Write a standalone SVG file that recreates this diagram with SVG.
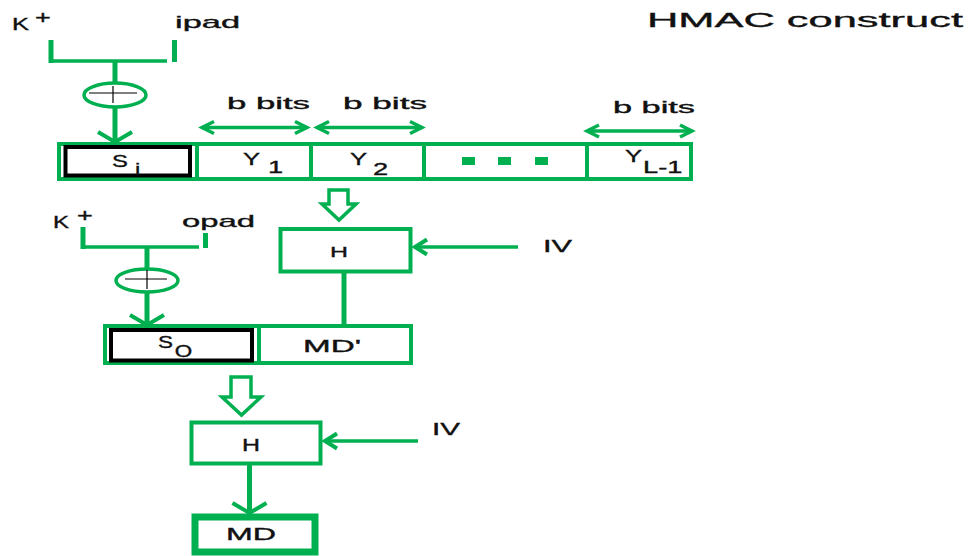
<svg xmlns="http://www.w3.org/2000/svg" width="968" height="556" viewBox="0 0 968 556">
<style>
.t{font-family:"Liberation Sans",Arial,sans-serif;fill:#111;stroke:#111;stroke-width:0.35}
.box{fill:#fff;stroke:#00b050;stroke-width:4}
.blk{fill:#fff;stroke:#000;stroke-width:4}
.ln{stroke:#00b050;fill:none}
.v{stroke-width:5}
.h{stroke-width:3.5}
.hol{fill:#fff;stroke:#00b050;stroke-width:3.5;stroke-linejoin:miter}
.xor{fill:#fff;stroke:#00b050;stroke-width:3.5}
.pl{stroke:#000;stroke-width:1.2}
.dash{fill:#00b050}
</style>
<defs>
<marker id="av" markerUnits="userSpaceOnUse" orient="auto" overflow="visible" markerWidth="1" markerHeight="1" refX="0" refY="0">
<path d="M-10,-17 L0,0 L-10,17" fill="none" stroke="#00b050" stroke-width="4"/>
</marker>
<marker id="ah" markerUnits="userSpaceOnUse" orient="auto" overflow="visible" markerWidth="1" markerHeight="1" refX="0" refY="0">
<path d="M-12,-7.5 L0,0 L-12,7.5" fill="none" stroke="#00b050" stroke-width="4"/>
</marker>
<marker id="ab" markerUnits="userSpaceOnUse" orient="auto-start-reverse" overflow="visible" markerWidth="1" markerHeight="1" refX="0" refY="0">
<path d="M-12,-6 L0,0 L-12,6" fill="none" stroke="#00b050" stroke-width="3.5"/>
</marker>
</defs>
<rect width="968" height="556" fill="#fff"/>

<g id="title"><text class="t" x="647" y="27" font-size="21" textLength="316" lengthAdjust="spacingAndGlyphs">HMAC construct</text></g>

<g id="kplus-ipad">
<text class="t" font-size="17" transform="translate(12 30) scale(1.5 1)">K<tspan x="15.3" y="-6" font-size="18">+</tspan></text>
<text class="t" x="175" y="28" font-size="17" textLength="65" lengthAdjust="spacingAndGlyphs">ipad</text>
</g>

<g id="xor1">
<ellipse class="xor" cx="115" cy="95" rx="31" ry="12"/>
<line class="pl" x1="89" y1="93" x2="137" y2="93"/>
<line class="pl" x1="113" y1="86" x2="113" y2="103"/>
</g>

<g id="si">
<rect class="box" x="59" y="144" width="138" height="35"/>
<rect class="blk" x="65.5" y="147" width="124.5" height="28.5"/>
<text class="t" font-size="17" transform="translate(112 167) scale(1.4 1)">S<tspan x="16.5" y="8">i</tspan></text>
</g>
<g id="y1">
<rect class="box" x="197" y="144" width="114" height="35"/>
<text class="t" font-size="16" transform="translate(243 165) scale(1.6 1)">Y<tspan x="15.6" y="8" font-size="17">1</tspan></text>
</g>
<g id="y2">
<rect class="box" x="311" y="144" width="113" height="35"/>
<text class="t" font-size="16" transform="translate(350 165) scale(1.6 1)">Y<tspan x="14.4" y="10" font-size="17">2</tspan></text>
</g>
<g id="dots">
<rect class="box" x="424" y="144" width="163" height="35"/>
<rect class="dash" x="462" y="157" width="13" height="8"/>
<rect class="dash" x="498" y="157" width="13" height="8"/>
<rect class="dash" x="535" y="157" width="13" height="8"/>
</g>
<g id="yl1">
<rect class="box" x="587" y="144" width="104" height="35"/>
<text class="t" font-size="16" transform="translate(625 162) scale(1.6 1)">Y<tspan x="11.3" y="11" font-size="17">L-1</tspan></text>
</g>

<g id="bbits">
<text class="t" x="227" y="109" font-size="16" textLength="83" lengthAdjust="spacingAndGlyphs">b bits</text>
<text class="t" x="343" y="109" font-size="16" textLength="84" lengthAdjust="spacingAndGlyphs">b bits</text>
<text class="t" x="613" y="113" font-size="16" textLength="82" lengthAdjust="spacingAndGlyphs">b bits</text>
</g>

<g id="h1">
<rect class="box" x="280.5" y="229" width="130" height="42.5"/>
<text class="t" x="330" y="257" font-size="15.5" textLength="18" lengthAdjust="spacingAndGlyphs">H</text>
</g>
<g id="iv1"><text class="t" x="543" y="252" font-size="17" textLength="29" lengthAdjust="spacingAndGlyphs">IV</text></g>

<g id="kplus-opad">
<text class="t" font-size="16" transform="translate(53 228) scale(1.5 1)">K<tspan x="16" y="-6" font-size="18">+</tspan></text>
<text class="t" x="182" y="227" font-size="17" textLength="73" lengthAdjust="spacingAndGlyphs">opad</text>
</g>

<g id="xor2">
<ellipse class="xor" cx="147" cy="280.5" rx="31" ry="11.5"/>
<line class="pl" x1="125" y1="279" x2="167" y2="279"/>
<line class="pl" x1="147" y1="270" x2="147" y2="289"/>
</g>

<g id="so">
<rect class="box" x="105" y="326" width="154" height="37"/>
<rect class="blk" x="111" y="330" width="141" height="30.5"/>
<text class="t" font-size="16" transform="translate(158 348) scale(1.4 1)">S<tspan x="12" y="9">O</tspan></text>
</g>
<g id="mdp">
<rect class="box" x="259" y="326" width="152" height="37"/>
<text class="t" x="303" y="352" font-size="17" textLength="58" lengthAdjust="spacingAndGlyphs">MD'</text>
</g>

<g id="h2">
<rect class="box" x="191.5" y="422.5" width="129" height="41"/>
<text class="t" x="242" y="451" font-size="16" textLength="18" lengthAdjust="spacingAndGlyphs">H</text>
</g>
<g id="iv2"><text class="t" x="432" y="435" font-size="17" textLength="28" lengthAdjust="spacingAndGlyphs">IV</text></g>

<g id="md">
<rect x="195" y="517" width="120" height="35" fill="#fff" stroke="#00b050" stroke-width="7"/>
<text class="t" x="226" y="540" font-size="17" textLength="50" lengthAdjust="spacingAndGlyphs">MD</text>
</g>

<g id="connectors">
<line class="ln v" x1="51" y1="40" x2="51" y2="63"/>
<line class="ln h" x1="49" y1="61" x2="167" y2="61"/>
<line class="ln v" x1="174.5" y1="40" x2="174.5" y2="62"/>
<line class="ln v" x1="115" y1="61" x2="115" y2="83"/>
<line class="ln v" x1="115" y1="107" x2="115" y2="142" marker-end="url(#av)"/>

<line class="ln h" x1="202" y1="127.5" x2="307" y2="127.5" marker-start="url(#ab)" marker-end="url(#ab)"/>
<line class="ln h" x1="317" y1="127.5" x2="422" y2="127.5" marker-start="url(#ab)" marker-end="url(#ab)"/>
<line class="ln h" x1="587" y1="131" x2="692" y2="131" marker-start="url(#ab)" marker-end="url(#ab)"/>

<polygon class="hol" points="329,190 348,190 348,204 356,204 339,220 322,204 329,204"/>

<line class="ln h" x1="518" y1="247" x2="415" y2="247" marker-end="url(#ah)"/>
<line class="ln v" x1="344" y1="272" x2="344" y2="326"/>

<line class="ln v" x1="83" y1="227" x2="83" y2="249"/>
<line class="ln h" x1="81" y1="247" x2="199" y2="247"/>
<line class="ln v" x1="205.5" y1="233" x2="205.5" y2="248"/>
<line class="ln v" x1="147" y1="247" x2="147" y2="269"/>
<line class="ln v" x1="147" y1="292" x2="147" y2="325" marker-end="url(#av)"/>

<polygon class="hol" points="231,377 251,377 251,397 261,397 241.5,415 222,397 231,397"/>

<line class="ln h" x1="418" y1="441" x2="325" y2="441" marker-end="url(#ah)"/>
<line class="ln v" x1="249.5" y1="464" x2="249.5" y2="513" marker-end="url(#av)"/>
</g>
</svg>
